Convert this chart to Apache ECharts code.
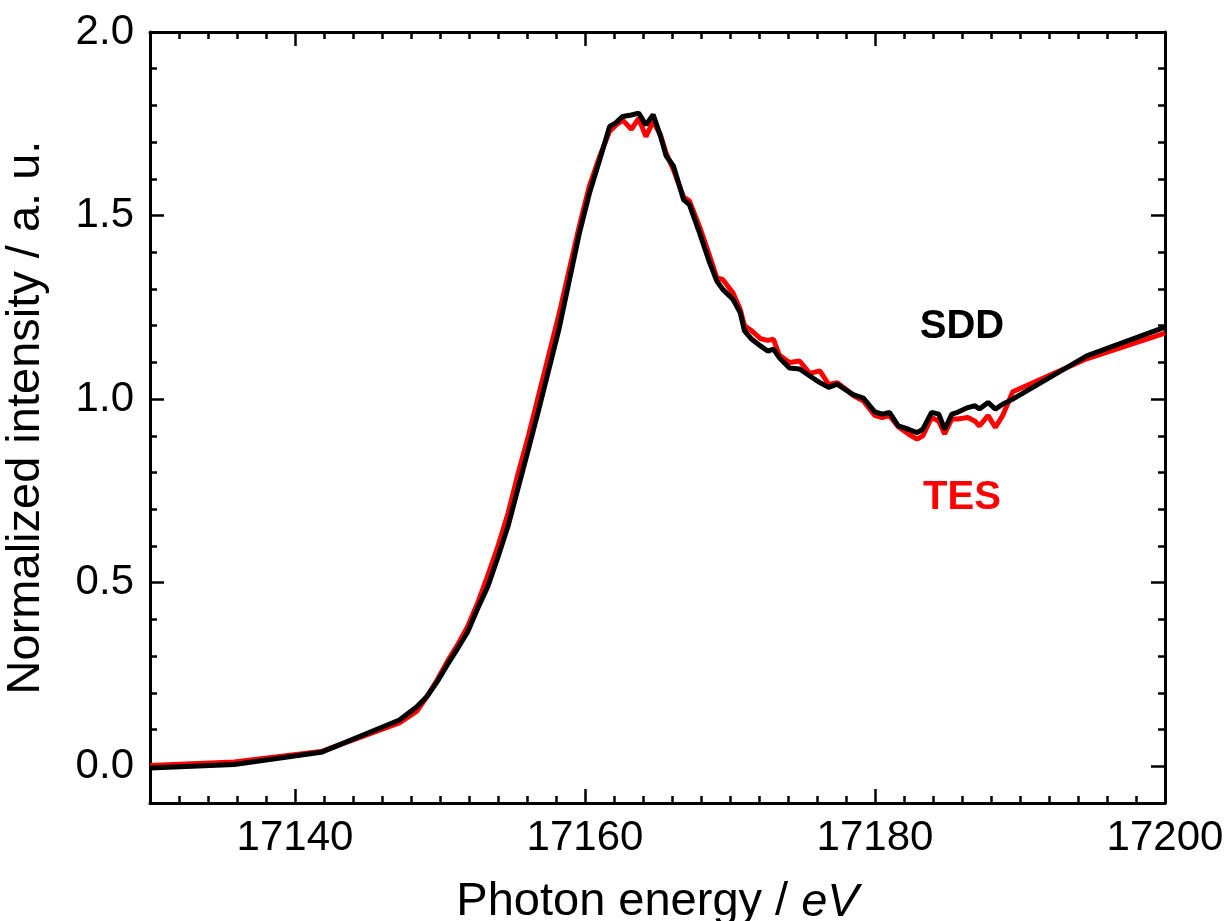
<!DOCTYPE html>
<html>
<head>
<meta charset="UTF-8">
<title>SDD vs TES</title>
<script src="https://cdn.jsdelivr.net/npm/echarts@6/dist/echarts.min.js"></script>
<style>
    html, body { margin: 0; padding: 0; background: #fff; }
    #main { width: 1231px; height: 921px; }
</style>
</head>
<body>
<div id="main"></div>
<script>
// photon energy (eV), shared by both detectors
var energy = [17130, 17135.8, 17141.8, 17147.2, 17148.4, 17149.1, 17149.8, 17150.5, 17151.2, 17151.9,
    17152.6, 17153.3, 17154.0, 17154.7, 17155.4, 17156.1, 17156.8, 17157.5, 17158.2, 17158.9,
    17159.6, 17160.3, 17161.0, 17161.7, 17162.1, 17162.6, 17163.2, 17163.7, 17164.2, 17164.7,
    17165.2, 17165.6, 17166.1, 17166.8, 17167.2, 17167.9, 17168.6, 17169.1, 17169.5, 17170.2,
    17170.7, 17171.0, 17171.5, 17172.1, 17172.6, 17173.0, 17173.4, 17174.1, 17174.8, 17175.5,
    17176.2, 17176.8, 17177.4, 17177.9, 17178.5, 17179.2, 17180.0, 17180.5, 17181.0, 17181.6,
    17182.3, 17182.9, 17183.3, 17183.9, 17184.4, 17184.8, 17185.3, 17185.7, 17186.4, 17186.9,
    17187.2, 17187.8, 17188.3, 17188.8, 17189.5, 17194.6, 17200];

var sdd = [-0.005, 0.005, 0.038, 0.126, 0.162, 0.19, 0.23, 0.276, 0.32, 0.365,
    0.43, 0.49, 0.57, 0.655, 0.76, 0.864, 0.97, 1.08, 1.19, 1.32,
    1.45, 1.56, 1.65, 1.743, 1.752, 1.77, 1.774, 1.779, 1.747, 1.775,
    1.717, 1.662, 1.635, 1.543, 1.53, 1.453, 1.371, 1.321, 1.299, 1.272,
    1.236, 1.186, 1.163, 1.145, 1.131, 1.136, 1.113, 1.085, 1.082, 1.063,
    1.045, 1.032, 1.041, 1.027, 1.012, 1.003, 0.965, 0.959, 0.964, 0.927,
    0.918, 0.909, 0.918, 0.964, 0.959, 0.918, 0.959, 0.964, 0.977, 0.982,
    0.973, 0.991, 0.973, 0.986, 1.0, 1.118, 1.196];

var tes = [0.002, 0.012, 0.04, 0.118, 0.15, 0.19, 0.235, 0.285, 0.33, 0.38,
    0.445, 0.52, 0.60, 0.69, 0.80, 0.90, 1.01, 1.12, 1.23, 1.35,
    1.47, 1.58, 1.66, 1.73, 1.745, 1.76, 1.735, 1.765, 1.715, 1.757,
    1.72, 1.67, 1.625, 1.55, 1.54, 1.47, 1.39, 1.33, 1.326, 1.29,
    1.245, 1.2, 1.186, 1.165, 1.16, 1.163, 1.12, 1.1, 1.104, 1.07,
    1.077, 1.04, 1.045, 1.03, 1.01, 0.995, 0.955, 0.95, 0.955, 0.925,
    0.905, 0.891, 0.9, 0.95, 0.94, 0.905, 0.946, 0.946, 0.95, 0.94,
    0.927, 0.955, 0.923, 0.955, 1.02, 1.11, 1.18];

var xMajor = [17140, 17160, 17180, 17200];
var yMajor = [0, 0.5, 1.0, 1.5, 2.0];

var font = '"Liberation Sans", Arial, sans-serif';
var chart = echarts.init(document.getElementById('main'));

function pairs(ys) {
    return energy.map(function (e, i) { return [e, ys[i]]; });
}

// one axis draws line + minor ticks (+ labels), a twin draws the long major ticks
function minorAxis(pos, min, max, step, labels) {
    return {
        type: 'value', position: pos, min: min, max: max, interval: step,
        axisLine: { show: true, onZero: false, lineStyle: { color: '#000', width: 3 } },
        axisTick: { show: true, inside: true, length: 7, lineStyle: { color: '#000', width: 2.5 } },
        axisLabel: labels || { show: false },
        splitLine: { show: false }
    };
}
function majorAxis(pos, min, max, values) {
    return {
        type: 'value', position: pos, min: min, max: max,
        axisLine: { show: false, onZero: false },
        axisTick: { show: true, inside: true, length: 14, customValues: values, lineStyle: { color: '#000', width: 2.5 } },
        axisLabel: { show: false },
        splitLine: { show: false }
    };
}

var xBottom = minorAxis('bottom', 17130, 17200, 2, {
    customValues: xMajor, fontSize: 42, color: '#000', margin: 14, fontFamily: font,
    formatter: function (v) { return String(v); }
});
xBottom.name = '{n|Photon energy / }{i|eV}';
xBottom.nameLocation = 'middle';
xBottom.nameGap = 76;
xBottom.nameTextStyle = {
    rich: {
        n: { fontSize: 47, color: '#000', fontFamily: font },
        i: { fontSize: 47, color: '#000', fontFamily: font, fontStyle: 'italic' }
    }
};

// left axis: labels + long ticks; its twin carries the line and the short ticks
var yLeft = majorAxis('left', -0.1, 2.0, yMajor);
yLeft.axisLabel = {
    show: true, customValues: yMajor, fontSize: 42, color: '#000', margin: 16, fontFamily: font,
    formatter: function (v) { return v.toFixed(1); }
};
yLeft.name = 'Normalized intensity / a. u.';
yLeft.nameLocation = 'middle';
yLeft.nameGap = 100;
yLeft.nameTextStyle = { fontSize: 47, color: '#000', fontFamily: font };

var option = {
    animation: false,
    backgroundColor: '#fff',
    grid: { left: 150, right: 66, top: 32, bottom: 118, outerBoundsMode: 'none' },
    xAxis: [
        xBottom,
        majorAxis('bottom', 17130, 17200, xMajor),
        minorAxis('top', 17130, 17200, 2),
        majorAxis('top', 17130, 17200, xMajor)
    ],
    yAxis: [
        yLeft,
        minorAxis('left', -0.1, 2.0, 0.1),
        minorAxis('right', -0.1, 2.0, 0.1),
        majorAxis('right', -0.1, 2.0, yMajor)
    ],
    series: [
        {
            name: 'TES', type: 'line', data: pairs(tes),
            showSymbol: false, z: 2,
            lineStyle: { color: '#ff0000', width: 5 },
            markPoint: {
                symbol: 'circle', symbolSize: 1, itemStyle: { color: 'rgba(0,0,0,0)' },
                label: { show: true, position: 'inside', formatter: 'TES', fontSize: 40, fontWeight: 'bold', color: '#ff0000', fontFamily: font },
                data: [{ coord: [17186.0, 0.731] }]
            }
        },
        {
            name: 'SDD', type: 'line', data: pairs(sdd),
            showSymbol: false, z: 3,
            lineStyle: { color: '#000', width: 5 },
            markPoint: {
                symbol: 'circle', symbolSize: 1, itemStyle: { color: 'rgba(0,0,0,0)' },
                label: { show: true, position: 'inside', formatter: 'SDD', fontSize: 40, fontWeight: 'bold', color: '#000', fontFamily: font },
                data: [{ coord: [17186.0, 1.196] }]
            }
        }
    ]
};

chart.setOption(option);
</script>
</body>
</html>
